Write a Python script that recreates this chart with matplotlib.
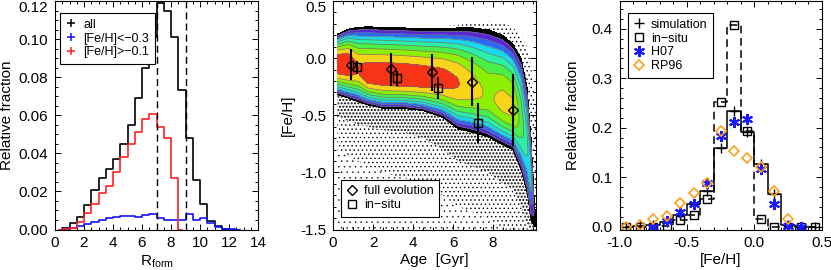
import numpy as np
import matplotlib
matplotlib.use("Agg")
import matplotlib.pyplot as plt
from matplotlib.lines import Line2D
from matplotlib.ticker import MultipleLocator, FixedLocator, FormatStrFormatter

plt.rcParams['font.family'] = ['Liberation Sans', 'DejaVu Sans']
plt.rcParams['font.size'] = 11
plt.rcParams['axes.linewidth'] = 0.8

# ---- panel 1: R_form histograms (bin centres, width 0.5) ----
R_CENTERS = np.arange(0.25, 13.0, 0.5)
ALL_FRAC = [0.0, 0.001, 0.0035, 0.0067, 0.013, 0.0205, 0.027, 0.032, 0.037,
            0.045, 0.055, 0.069, 0.085, 0.101, 0.119, 0.1145, 0.101, 0.0735,
            0.048, 0.026, 0.0135, 0.0046, 0.0018, 0.0004, 0.0, 0.0]
POOR_FRAC = [0.0, 0.0003, 0.001, 0.0018, 0.0028, 0.0037, 0.0049, 0.0061, 0.0068,
             0.0072, 0.007, 0.0065, 0.0075, 0.0084, 0.0063, 0.0051, 0.005, 0.005,
             0.0084, 0.0049, 0.0058, 0.0032, 0.0014, 0.0004, 0.0001, 0.0]
RICH_FRAC = [0.0, 0.0005, 0.001, 0.004, 0.0085, 0.0135, 0.019, 0.023, 0.030,
             0.038, 0.045, 0.051, 0.058, 0.0605, 0.054, 0.048, 0.027, 0.0]
R_LINES = [7.0, 9.0]

# ---- panel 2: age-metallicity density (contour band description) ----
AGE_NODES = [0.22, 0.75, 1.25, 1.75, 2.5, 3.5, 4.5, 5.5, 6.25, 7.0, 7.75, 8.5,
             9.0, 9.4, 9.7, 9.9, 10.05, 10.15]
FEH_TOP = [0.21, 0.255, 0.27, 0.275, 0.27, 0.265, 0.26, 0.26, 0.265, 0.265,
           0.25, 0.2, 0.12, 0.0, -0.25, -0.7, -1.2, -1.42]
FEH_BOT = [-0.32, -0.35, -0.38, -0.41, -0.44, -0.44, -0.46, -0.52, -0.62, -0.65,
           -0.69, -0.76, -0.8, -0.98, -1.18, -1.42, -1.47, -1.48]
FEH_RIDGE = [-0.05, -0.06, -0.10, -0.15, -0.16, -0.17, -0.18, -0.19, -0.22,
             -0.27, -0.33, -0.40, -0.45, -0.55, -0.75, -1.05, -1.33, -1.45]
PEAK_LEVEL = [8.9, 8.9, 8.05, 8.6, 8.7, 8.7, 8.6, 8.4, 8.05, 7.4, 6.8, 7.3, 7.2,
              5.6, 4.2, 3.3, 1.0, 0.0]
DOTS_TOP = [0.21, 0.255, 0.27, 0.275, 0.27, 0.265, 0.27, 0.28, 0.29, 0.31,
            0.32, 0.31, 0.27, 0.2, 0.1, -0.05, -0.3, -0.5]
DOTS_DENSE_BOT = [-0.5, -0.55, -0.58, -0.6, -0.63, -0.65, -0.7, -0.8, -0.9,
                  -0.95, -1.0, -1.1, -1.15, -1.3, -1.45, -1.5, -1.5, -1.5]
DOTS_MID_BOT = [-0.8, -0.85, -0.9, -0.95, -1.0, -1.05, -1.1, -1.2, -1.3,
                -1.35, -1.4, -1.5, -1.5, -1.5, -1.5, -1.5, -1.5, -1.5]
LEVEL_COLORS = ['#000000', '#5a24d4', '#2c66fa', '#18d8f0', '#28f0aa',
                '#48f048', '#8cf000', '#f8d418', '#f83418']

FULL_AGE = [0.88, 2.9, 4.93, 6.93, 8.98]
FULL_FEH = [-0.062, -0.097, -0.123, -0.205, -0.458]
FULL_HI = [0.078, 0.049, 0.034, 0.008, -0.138]
FULL_LO = [-0.19, -0.248, -0.292, -0.417, -0.772]
INSITU_AGE = [1.22, 3.22, 5.23, 7.27]
INSITU_FEH = [-0.079, -0.178, -0.263, -0.568]
INSITU_HI = [-0.024, -0.111, -0.161, -0.394]
INSITU_LO = [-0.138, -0.242, -0.359, -0.743]

# ---- panel 3: [Fe/H] distributions (bin width 0.1) ----
FEH_CENTERS = np.round(np.arange(-0.95, 0.5, 0.1), 2)
SIM_FRAC = [0.0, 0.001, 0.003, 0.010, 0.023, 0.046, 0.072, 0.159, 0.233,
            0.192, 0.127, 0.066, 0.003, 0.0, 0.0]
INSITU_FRAC = [0.0, 0.0, 0.0, 0.002, 0.013, 0.023, 0.055, 0.251, 0.408,
               0.193, 0.015, 0.0, 0.0, 0.0, 0.0]
H07_FEH = [-0.75, -0.65, -0.55, -0.45, -0.35, -0.25, -0.15, -0.05, 0.05, 0.15, 0.25, 0.35]
H07_FRAC = [0.0, 0.012, 0.030, 0.046, 0.089, 0.183, 0.212, 0.218, 0.117, 0.046, 0.002, 0.0]
RP96_FEH = [-0.95, -0.85, -0.75, -0.65, -0.55, -0.45, -0.35, -0.25, -0.15, -0.05, 0.05, 0.15, 0.25]
RP96_FRAC = [0.0, 0.004, 0.015, 0.021, 0.047, 0.068, 0.089, 0.193, 0.153, 0.139, 0.121, 0.072, 0.015]

W, H = 831, 270
fig = plt.figure(figsize=(W / 100, H / 100), dpi=100)


def add_axes(x0, x1, y0=1, y1=229.5):
    return fig.add_axes([x0 / W, (H - y1) / H, (x1 - x0) / W, (y1 - y0) / H])


def style(ax, top_val=None):
    ax.tick_params(which='both', direction='in', top=True, right=True,
                   width=0.7, labelsize=11)
    ax.tick_params(which='major', length=4.5, pad=5)
    ax.tick_params(which='minor', length=2.2)
    if top_val is not None:
        # keep the topmost y label inside the figure, as in the original
        for t, loc in zip(ax.yaxis.get_major_ticks(), ax.yaxis.get_majorticklocs()):
            if abs(loc - top_val) < 1e-9:
                t.label1.set_verticalalignment('top')


def legend(ax, handles, labels, **kw):
    lg = ax.legend(handles, labels, fontsize=9, frameon=True, fancybox=False,
                   edgecolor='black', framealpha=1, borderaxespad=0,
                   handlelength=0.9, handletextpad=0.5, labelspacing=0.15,
                   borderpad=0.45, **kw)
    lg.get_frame().set_linewidth(0.8)
    return lg


def dots(ax, lo, hi, pattern, lw):
    with plt.rc_context({'hatch.linewidth': lw}):
        p = ax.fill_between(AGE_NODES, lo, hi, facecolor='none', edgecolor='black',
                            linewidth=0, hatch=pattern, zorder=1)
    if hasattr(p, 'set_hatch_linewidth'):
        p.set_hatch_linewidth(lw)


# ---------------- panel 1 ----------------
ax1 = add_axes(55, 258)
ax1.step(R_CENTERS, ALL_FRAC, where='mid', color='black', lw=1.2)
ax1.step(R_CENTERS, POOR_FRAC, where='mid', color='#1414ff', lw=1.2)
ax1.step(R_CENTERS[:len(RICH_FRAC)], RICH_FRAC, where='mid', color='#ff2020', lw=1.2)
for xv in R_LINES:
    ax1.axvline(xv, color='black', lw=1.0, ls=(0, (5, 3)))
ax1.set_xlim(0, 14)
ax1.set_ylim(0, 0.12)
ax1.xaxis.set_major_locator(MultipleLocator(2))
ax1.xaxis.set_minor_locator(MultipleLocator(0.5))
ax1.yaxis.set_major_locator(MultipleLocator(0.02))
ax1.yaxis.set_minor_locator(MultipleLocator(0.005))
ax1.yaxis.set_major_formatter(FormatStrFormatter('%.2f'))
style(ax1, 0.12)
ax1.set_xlabel('R$_\\mathregular{form}$', labelpad=2)
ax1.set_ylabel('Relative fraction', labelpad=3)
h1 = [Line2D([], [], ls='none', marker='+', ms=6, mew=1.1, color=c)
      for c in ('black', '#1414ff', '#ff2020')]
legend(ax1, h1, ['all', '[Fe/H]<\u22120.3', '[Fe/H]>\u22120.1'],
       loc='upper left', bbox_to_anchor=(0.025, 0.947))

# ---------------- panel 2 ----------------
ax2 = add_axes(333, 536)
ages = np.linspace(AGE_NODES[0], AGE_NODES[-1], 600)
fehs = np.linspace(-1.6, 0.5, 900)
A, F = np.meshgrid(ages, fehs)
top = np.interp(ages, AGE_NODES, FEH_TOP)
bot = np.interp(ages, AGE_NODES, FEH_BOT)
ridge = np.interp(ages, AGE_NODES, FEH_RIDGE)
peak = np.interp(ages, AGE_NODES, PEAK_LEVEL)
u = np.where(F >= ridge, (F - ridge) / (top - ridge), (ridge - F) / (ridge - bot))
Z = peak * (1 - u ** 2)
Z = np.where(u <= 1, Z, np.nan)

# scattered particles outside the contours (stipple texture)
dots(ax2, FEH_BOT, DOTS_DENSE_BOT, '.....', 1.0)
dots(ax2, DOTS_DENSE_BOT, DOTS_MID_BOT, '....', 0.5)
dots(ax2, DOTS_MID_BOT, -1.5, '...', 0.3)
dots(ax2, FEH_TOP, DOTS_TOP, '....', 0.5)

levels = [0.02] + list(range(1, 9)) + [20]
ax2.contourf(A, F, Z, levels=levels, colors=LEVEL_COLORS, zorder=2)
ax2.contour(A, F, Z, levels=levels[1:-1], colors='#707070', linewidths=0.5, zorder=3)

ax2.errorbar(FULL_AGE, FULL_FEH,
             yerr=[np.subtract(FULL_FEH, FULL_LO), np.subtract(FULL_HI, FULL_FEH)],
             fmt='D', ms=5, mfc='none', mec='black', mew=1.0, ecolor='black',
             elinewidth=1.5, capsize=0, zorder=5)
ax2.errorbar(INSITU_AGE, INSITU_FEH,
             yerr=[np.subtract(INSITU_FEH, INSITU_LO), np.subtract(INSITU_HI, INSITU_FEH)],
             fmt='s', ms=6, mfc='none', mec='black', mew=1.0, ecolor='black',
             elinewidth=1.5, capsize=0, zorder=5)
ax2.set_xlim(0, 10.15)
ax2.set_ylim(-1.5, 0.5)
ax2.xaxis.set_major_locator(FixedLocator([0, 2, 4, 6, 8]))
ax2.xaxis.set_minor_locator(MultipleLocator(0.5))
ax2.yaxis.set_major_locator(MultipleLocator(0.5))
ax2.yaxis.set_minor_locator(MultipleLocator(0.1))
ax2.yaxis.set_major_formatter(FormatStrFormatter('%.1f'))
style(ax2, 0.5)
ax2.set_xlabel('Age  [Gyr]', labelpad=2)
ax2.set_ylabel('[Fe/H]', labelpad=4)
h2 = [Line2D([], [], ls='none', marker='D', ms=5, mfc='none', mec='black', mew=1.0),
      Line2D([], [], ls='none', marker='s', ms=6, mfc='none', mec='black', mew=1.0)]
lg2 = legend(ax2, h2, ['full evolution', 'in\u2212situ'],
             loc='lower left', bbox_to_anchor=(0.038, 0.056))
lg2.set_zorder(10)

# ---------------- panel 3 ----------------
ax3 = add_axes(619.5, 821.5)
ax3.step(FEH_CENTERS, SIM_FRAC, where='mid', color='black', lw=1.1)
ax3.plot(FEH_CENTERS, SIM_FRAC, ls='none', marker='+', ms=7, mew=1.0, color='black')
ax3.step(FEH_CENTERS, INSITU_FRAC, where='mid', color='black', lw=1.1, ls=(0, (5, 3)))
ax3.plot(FEH_CENTERS, INSITU_FRAC, ls='none', marker='s', ms=6, mfc='none',
         mec='black', mew=1.0)
ax3.plot(H07_FEH, H07_FRAC, ls='none', marker=(6, 2, 0), ms=8, mew=1.5, color='#1a1aff')
ax3.plot(RP96_FEH, RP96_FRAC, ls='none', marker='D', ms=5.5, mfc='none',
         mec='#ffa020', mew=1.2)
ax3.set_xlim(-1.0, 0.5)
ax3.set_ylim(-0.006, 0.456)
ax3.xaxis.set_major_locator(MultipleLocator(0.5))
ax3.xaxis.set_minor_locator(MultipleLocator(0.1))
ax3.yaxis.set_major_locator(MultipleLocator(0.1))
ax3.yaxis.set_minor_locator(MultipleLocator(0.02))
ax3.xaxis.set_major_formatter(FormatStrFormatter('%.1f'))
ax3.yaxis.set_major_formatter(FormatStrFormatter('%.1f'))
style(ax3)
ax3.set_xlabel('[Fe/H]', labelpad=2)
ax3.set_ylabel('Relative fraction', labelpad=8)
h3 = [Line2D([], [], ls='none', marker='+', ms=7, mew=1.0, color='black'),
      Line2D([], [], ls='none', marker='s', ms=6, mfc='none', mec='black', mew=1.0),
      Line2D([], [], ls='none', marker=(6, 2, 0), ms=8, mew=1.5, color='#1a1aff'),
      Line2D([], [], ls='none', marker='D', ms=5.5, mfc='none', mec='#ffa020', mew=1.2)]
legend(ax3, h3, ['simulation', 'in\u2212situ', 'H07', 'RP96'],
       loc='upper left', bbox_to_anchor=(0.042, 0.947))

fig.savefig('out.png', dpi=100)
